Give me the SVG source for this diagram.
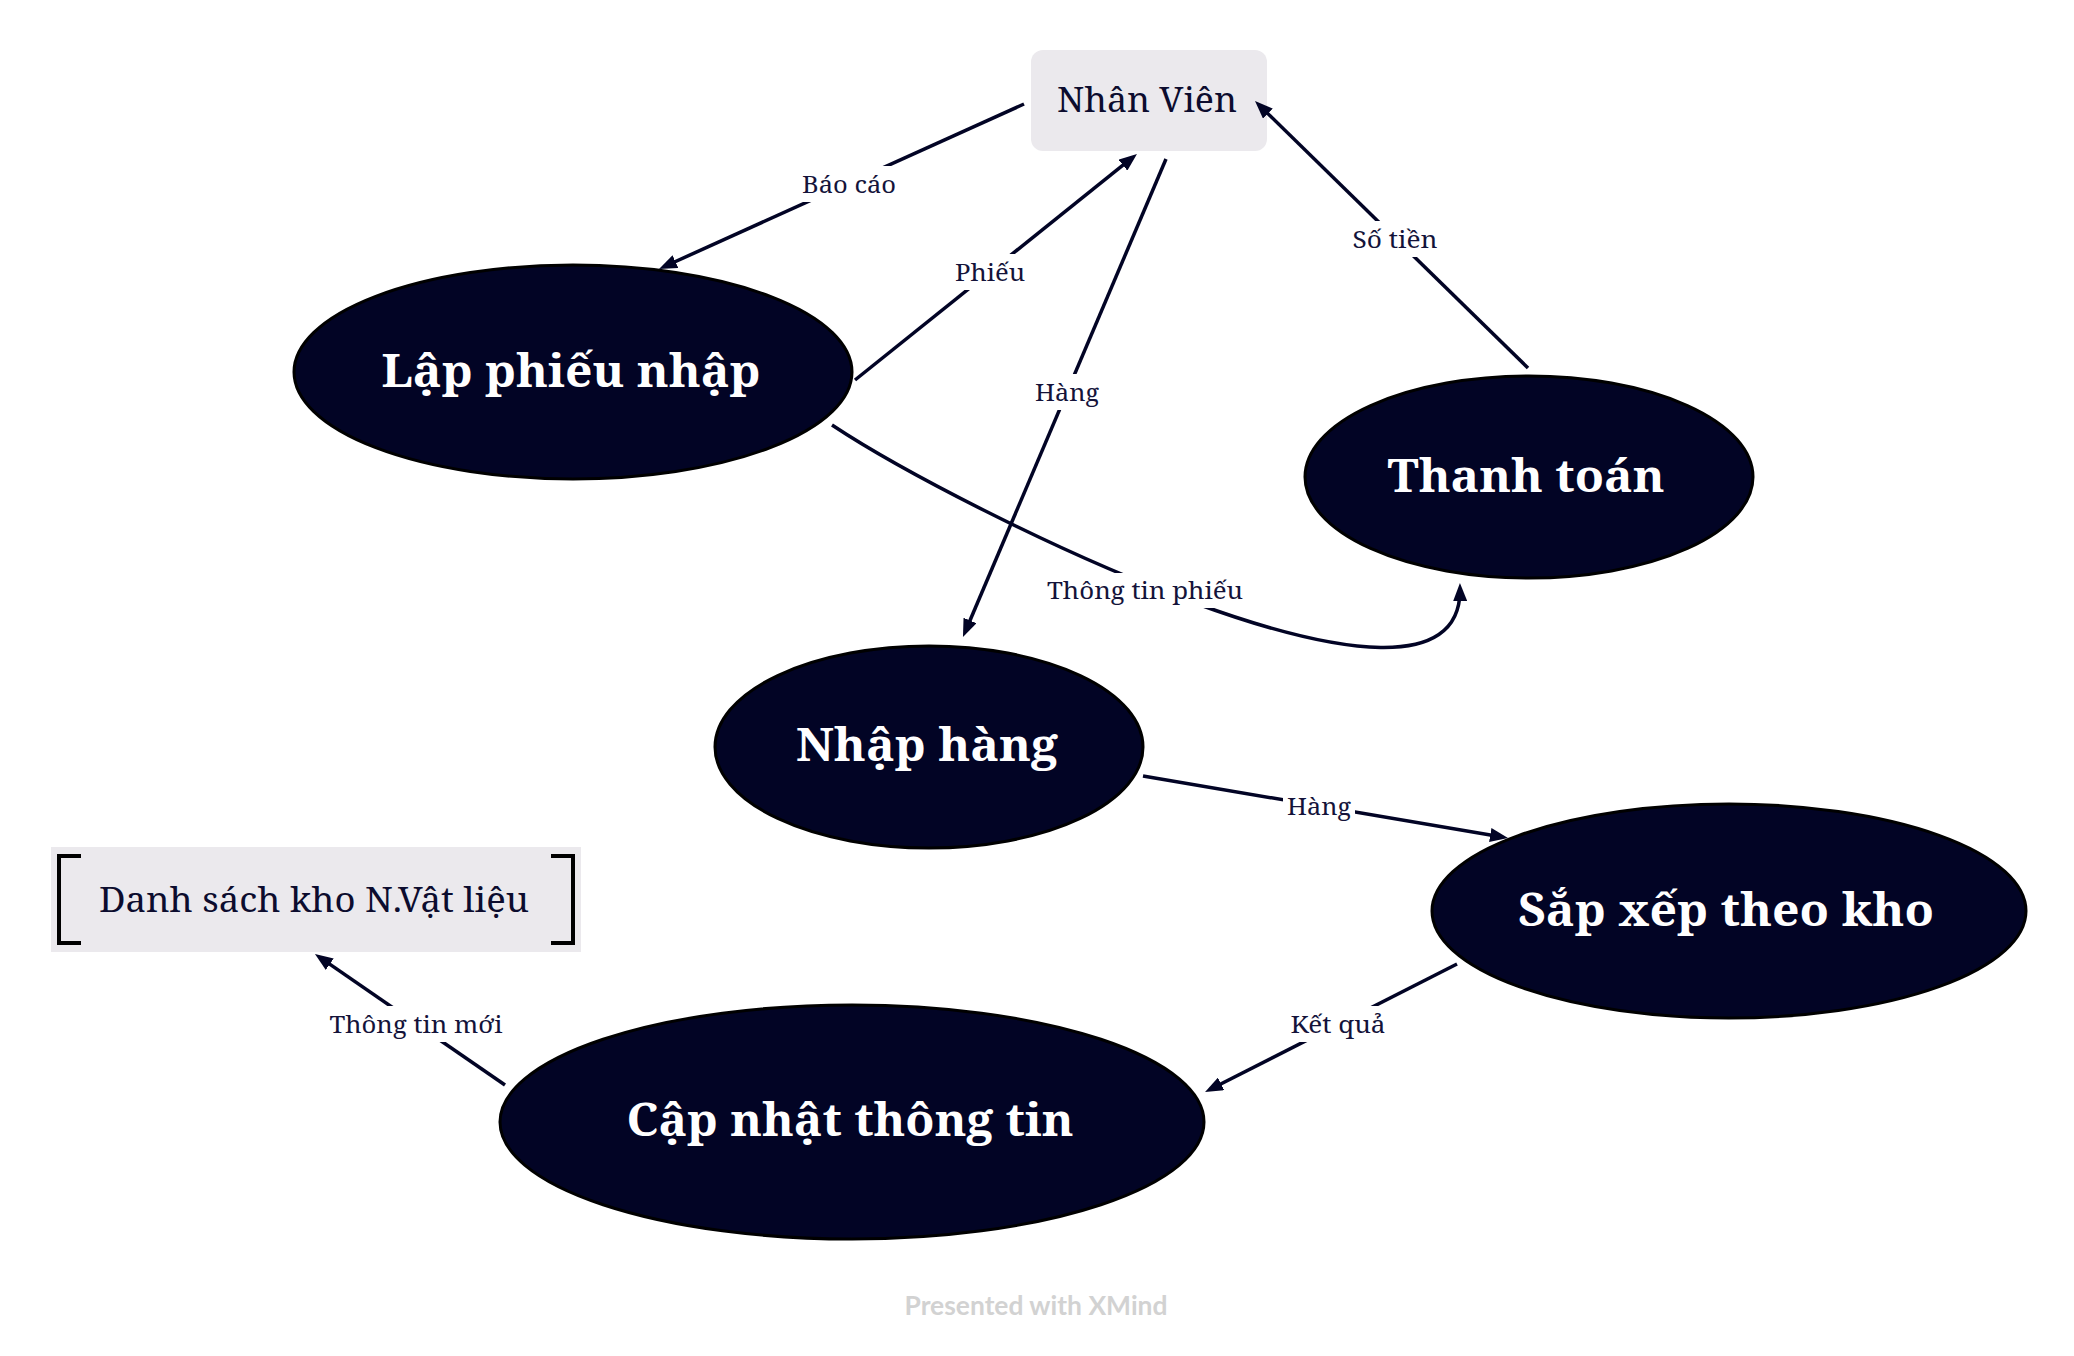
<svg xmlns="http://www.w3.org/2000/svg" width="2074" height="1356" viewBox="0 0 2074 1356">
<style>
.ell{fill:#020425;stroke:#000000;stroke-width:3}
.nt{font-family:"Noto Serif","DejaVu Serif",serif;font-weight:bold;font-size:45px;fill:#ffffff;text-anchor:middle}
.bt{font-family:"Noto Serif","DejaVu Serif",serif;font-size:34px;fill:#0c0c2e;text-anchor:middle}
.lb{font-family:"Noto Serif","DejaVu Serif",serif;font-size:23px;fill:#14133a;text-anchor:middle}
.lbg{fill:#ffffff}
.cn{fill:none;stroke:#020425;stroke-width:3.5}
.box{fill:#ebe9ed}
.br{fill:none;stroke:#000000;stroke-width:4}
</style>
<defs>
<marker id="ah" markerUnits="userSpaceOnUse" markerWidth="18" markerHeight="14" refX="12" refY="7" orient="auto">
<path d="M0,0 L18,7 L0,14 z" fill="#020425"/>
</marker>
</defs>
<rect width="2074" height="1356" fill="#ffffff"/>

<g id="nhan-vien">
<rect class="box" x="1031" y="50" width="236" height="101" rx="12"/>
<text class="bt" x="1147" y="112" textLength="180" lengthAdjust="spacingAndGlyphs">Nhân Viên</text>
</g>

<g id="lap-phieu-nhap">
<ellipse class="ell" cx="573" cy="372" rx="279" ry="107"/>
<text class="nt" x="571" y="387" textLength="379" lengthAdjust="spacingAndGlyphs">Lập phiếu nhập</text>
</g>

<g id="thanh-toan">
<ellipse class="ell" cx="1529" cy="477" rx="224" ry="101"/>
<text class="nt" x="1526" y="492" textLength="277" lengthAdjust="spacingAndGlyphs">Thanh toán</text>
</g>

<g id="nhap-hang">
<ellipse class="ell" cx="929" cy="747" rx="214" ry="101"/>
<text class="nt" x="927" y="761" textLength="262" lengthAdjust="spacingAndGlyphs">Nhập hàng</text>
</g>

<g id="sap-xep-theo-kho">
<ellipse class="ell" cx="1729" cy="911" rx="297" ry="107"/>
<text class="nt" x="1726" y="926" textLength="416" lengthAdjust="spacingAndGlyphs">Sắp xếp theo kho</text>
</g>

<g id="cap-nhat-thong-tin">
<ellipse class="ell" cx="852" cy="1122" rx="352" ry="117"/>
<text class="nt" x="850" y="1136" textLength="447" lengthAdjust="spacingAndGlyphs">Cập nhật thông tin</text>
</g>

<g id="danh-sach-kho">
<rect class="box" x="51" y="847" width="530" height="105"/>
<path class="br" d="M81,856 H59 V943 H81"/>
<path class="br" d="M551,856 H573 V943 H551"/>
<text class="bt" x="314" y="912" textLength="430" lengthAdjust="spacingAndGlyphs">Danh sách kho N.Vật liệu</text>
</g>

<g id="connectors">
<line class="cn" x1="1024" y1="104" x2="664.5" y2="266.5" marker-end="url(#ah)"/>
<line class="cn" x1="855" y1="380" x2="1132.3" y2="157.7" marker-end="url(#ah)"/>
<line class="cn" x1="1166" y1="159" x2="965.3" y2="631.5" marker-end="url(#ah)"/>
<line class="cn" x1="1528" y1="368" x2="1259.3" y2="105.2" marker-end="url(#ah)"/>
<path class="cn" d="M832,425 C960,510 1462,760 1460,589" marker-end="url(#ah)"/>
<line class="cn" x1="1143" y1="776" x2="1502.1" y2="837" marker-end="url(#ah)"/>
<line class="cn" x1="1457" y1="964" x2="1210.4" y2="1089.3" marker-end="url(#ah)"/>
<line class="cn" x1="505" y1="1085" x2="319.9" y2="957.4" marker-end="url(#ah)"/>
<g id="labels">
<rect class="lbg" x="798" y="166" width="102" height="36"/>
<text class="lb" x="849" y="193" textLength="94" lengthAdjust="spacingAndGlyphs">Báo cáo</text>
<rect class="lbg" x="951" y="254" width="78" height="36"/>
<text class="lb" x="990" y="281" textLength="70" lengthAdjust="spacingAndGlyphs">Phiếu</text>
<rect class="lbg" x="1031" y="374" width="72" height="36"/>
<text class="lb" x="1067" y="401" textLength="64" lengthAdjust="spacingAndGlyphs">Hàng</text>
<rect class="lbg" x="1349" y="221" width="93" height="36"/>
<text class="lb" x="1395" y="248" textLength="85" lengthAdjust="spacingAndGlyphs">Số tiền</text>
<rect class="lbg" x="1043" y="573" width="204" height="35"/>
<text class="lb" x="1145" y="599" textLength="196" lengthAdjust="spacingAndGlyphs">Thông tin phiếu</text>
<rect class="lbg" x="1283" y="788" width="72" height="36"/>
<text class="lb" x="1319" y="815" textLength="64" lengthAdjust="spacingAndGlyphs">Hàng</text>
<rect class="lbg" x="1286" y="1006" width="103" height="36"/>
<text class="lb" x="1338" y="1033" textLength="95" lengthAdjust="spacingAndGlyphs">Kết quả</text>
<rect class="lbg" x="326" y="1006" width="181" height="36"/>
<text class="lb" x="416" y="1033" textLength="173" lengthAdjust="spacingAndGlyphs">Thông tin mới</text>
</g>
</g>

<text x="1036" y="1315" font-family="Lato, 'Open Sans', sans-serif" font-weight="bold" font-size="26" fill="#d2d2d2" text-anchor="middle" textLength="263" lengthAdjust="spacingAndGlyphs">Presented with XMind</text>
</svg>
